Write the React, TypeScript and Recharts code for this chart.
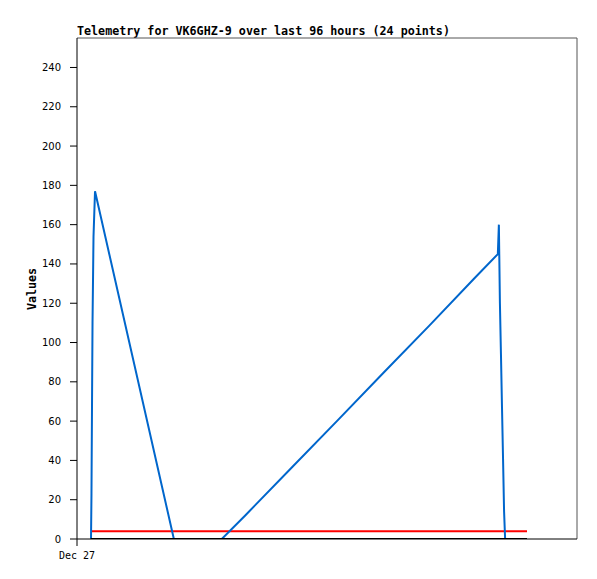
import { LineChart, Line, XAxis, YAxis, ReferenceLine } from "recharts";

// hours since start of Dec 27
const hours = [2.69, 2.78, 2.88, 2.98, 3.17, 3.46, 18.6, 27.8, 32.3, 41.1, 49.9, 58.8, 67.6, 76.4, 80.8, 81.0, 81.2, 81.4, 81.6, 81.8, 82.0, 82.2];
const values = [0, 23, 67, 110, 154, 177, 0, 0, 12, 36, 60, 84.5, 108.5, 133, 145, 160, 120, 94, 67, 41, 14, 0];

const refHours = [2.69, 86.4];
const redValues = [4, 4];
const blackValues = [0, 0];

const yTicks = [0, 20, 40, 60, 80, 100, 120, 140, 160, 180, 200, 220, 240];
const xTicks = [0];
const xTickLabels = ["Dec 27"];

const title = "Telemetry for VK6GHZ-9 over last 96 hours (24 points)";

const blueData = hours.map((h, i) => ({ h, v: values[i] }));
const redData = refHours.map((h, i) => ({ h, v: redValues[i] }));
const blackData = refHours.map((h, i) => ({ h, v: blackValues[i] }));

const mono = "'DejaVu Sans Mono', monospace";

export default function App() {
  return (
    <div style={{ position: "absolute", left: 0, top: 0, width: 597, height: 579, background: "#fff" }}>
      <div
        style={{
          position: "absolute",
          left: 77,
          top: 25,
          fontFamily: mono,
          fontWeight: "bold",
          fontSize: 11.7,
          lineHeight: "12px",
          whiteSpace: "nowrap",
        }}
      >
        {title}
      </div>
      <div
        style={{
          position: "absolute",
          left: 32,
          top: 288.5,
          transform: "translate(-50%, -50%) rotate(-90deg)",
          fontFamily: mono,
          fontWeight: "bold",
          fontSize: 11.7,
          lineHeight: "12px",
          whiteSpace: "nowrap",
        }}
      >
        Values
      </div>
      <LineChart width={597} height={579} margin={{ top: 38, right: 20, bottom: 0, left: 0 }}>
        <XAxis
          dataKey="h"
          type="number"
          domain={[0, 96]}
          ticks={xTicks}
          tickFormatter={(v: number) => xTickLabels[xTicks.indexOf(v)] ?? ""}
          height={40}
          allowDataOverflow
          axisLine={{ stroke: "#000" }}
          tickLine={{ stroke: "#000" }}
          tickSize={7}
          tickMargin={6}
          tick={{ fill: "#000", fontSize: 10, fontFamily: mono }}
        />
        <YAxis
          type="number"
          domain={[0, 255]}
          ticks={yTicks}
          width={77}
          allowDataOverflow
          axisLine={{ stroke: "#000" }}
          tickLine={{ stroke: "#000" }}
          tickSize={7}
          tickMargin={9}
          tick={{ fill: "#000", fontSize: 10, fontFamily: "'DejaVu Sans', sans-serif" }}
        />
        <ReferenceLine y={255} stroke="#555" />
        <ReferenceLine x={96} stroke="#555" />
        <Line data={redData} dataKey="v" type="linear" stroke="#ff0000" strokeWidth={2} dot={false} isAnimationActive={false} />
        <Line data={blueData} dataKey="v" type="linear" stroke="#0066cc" strokeWidth={2} dot={false} isAnimationActive={false} />
        <Line data={blackData} dataKey="v" type="linear" stroke="#000000" strokeWidth={2} dot={false} isAnimationActive={false} />
      </LineChart>
    </div>
  );
}
